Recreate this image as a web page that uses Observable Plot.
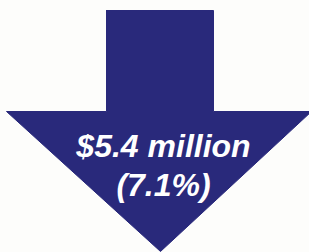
<!DOCTYPE html>
<html>
<head>
<meta charset="utf-8">
<script src="https://cdn.jsdelivr.net/npm/d3@7"></script>
<script src="https://cdn.jsdelivr.net/npm/@observablehq/plot@0.6"></script>
<style>
  html, body { margin: 0; padding: 0; background: #fdfdfb; }
</style>
</head>
<body>
<div id="chart"></div>
<script>
// Change shown by the arrow
const changeAmount = [5.4];          // $ million (decrease)
const changePercent = [7.1];         // percent
const labels = [`$${changeAmount[0]} million`, `(${changePercent[0]}%)`];

// Arrow outline in the chart's own units (x across, y downward)
const arrowX = [106, 213, 213, 311, 160, 6, 106, 106];
const arrowY = [10, 10, 111, 111, 251, 111, 111, 10];
const arrow = arrowX.map((x, i) => ({x, y: arrowY[i]}));

const labelX = [163, 163];
const labelY = [156, 195];
const labelRows = labels.map((t, i) => ({t, x: labelX[i], y: labelY[i]}));

const chart = Plot.plot({
  width: 309,
  height: 252,
  margin: 0,
  x: {domain: [0, 309], range: [0, 309], axis: null},
  y: {domain: [0, 252], range: [0, 252], axis: null},
  style: {background: "#fdfdfb"},
  marks: [
    Plot.line(arrow, {x: "x", y: "y", fill: "#29297b", stroke: "#29297b", strokeWidth: 1, curve: "linear"}),
    Plot.text(labelRows, {
      x: "x", y: "y", text: "t",
      fill: "white",
      fontSize: 32,
      fontWeight: "bold",
      fontStyle: "italic",
      fontFamily: "Liberation Sans, Arial, sans-serif",
      lineAnchor: "bottom",
      textAnchor: "middle"
    })
  ]
});
document.getElementById("chart").appendChild(chart);
</script>
</body>
</html>
